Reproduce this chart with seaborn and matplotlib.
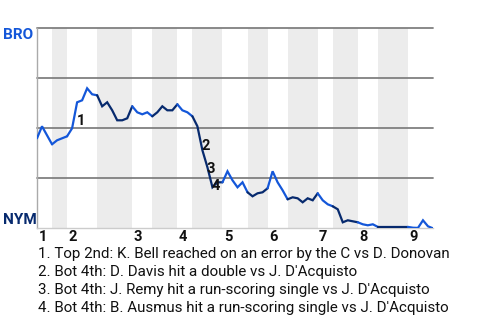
import matplotlib
matplotlib.use("Agg")
import matplotlib.pyplot as plt
import seaborn as sns
import numpy as np
import pandas as pd

# ---- data ----
wp_bro = [0.45, 0.51, 0.465, 0.42, 0.44, 0.45, 0.46, 0.50, 0.63, 0.64,
          0.70, 0.67, 0.665, 0.61, 0.63, 0.59, 0.54, 0.54, 0.55, 0.61,
          0.58, 0.57, 0.58, 0.56, 0.58, 0.61, 0.59, 0.59, 0.62, 0.59,
          0.58, 0.56, 0.51, 0.39, 0.305, 0.205, 0.23, 0.23, 0.285, 0.24,
          0.205, 0.23, 0.18, 0.16, 0.175, 0.18, 0.20, 0.285, 0.23, 0.19,
          0.145, 0.155, 0.15, 0.13, 0.15, 0.14, 0.175, 0.14, 0.12, 0.11,
          0.095, 0.03, 0.04, 0.035, 0.03, 0.02, 0.015, 0.02, 0.007, 0.007,
          0.007, 0.007, 0.007, 0.007, 0.007, 0.003, 0.002, 0.04, 0.01, 0.0]
plays = list(range(len(wp_bro)))

# half-inning boundaries (play index) and batting team of each half-inning
half_bounds = [0, 3, 6, 12, 19, 23, 28, 31, 37, 42, 46, 50, 56, 59, 64, 68, 74, 79]
half_team = ["BRO", "BRO", "BRO", "NYM", "BRO", "NYM", "BRO", "NYM", "BRO", "NYM",
             "BRO", "NYM", "BRO", "NYM", "BRO", "NYM", "BRO"]
inning_labels = ["1", "2", "3", "4", "5", "6", "7", "8", "9"]

event_plays = [8, 33, 34, 35]
event_labels = ["1", "2", "3", "4"]
event_texts = [
    "1. Top 2nd: K. Bell reached on an error by the C vs D. Donovan",
    "2. Bot 4th: D. Davis hit a double vs J. D'Acquisto",
    "3. Bot 4th: J. Remy hit a run-scoring single vs J. D'Acquisto",
    "4. Bot 4th: B. Ausmus hit a run-scoring single vs J. D'Acquisto",
]
teams = ["BRO", "NYM"]

# ---- style ----
sns.set_theme(style="white")
plt.rcParams["font.family"] = ["Roboto", "DejaVu Sans"]
team_colors = {"BRO": "#1457d9", "NYM": "#072a6e"}

W, H = 480, 320
fig = plt.figure(figsize=(W / 100, H / 100), dpi=100)
L, R, T, B = 37, 433, 28.3, 228.3
ax = fig.add_axes([L / W, 1 - B / H, (R - L) / W, (B - T) / H])

n_last = half_bounds[-1]
ax.set_xlim(0, n_last)
ax.set_ylim(0, 1)

# shaded bottom halves
for k in range(len(half_bounds) - 1):
    if k % 2 == 1:
        ax.axvspan(half_bounds[k], half_bounds[k + 1], color="#ececec", lw=0, zorder=0)

for gy in [0.25, 0.5, 0.75, 1.0]:
    ax.axhline(gy, color="#808080", lw=1.3, zorder=1, clip_on=False)

df = pd.DataFrame({"play": plays, "wp": wp_bro})
for k in range(len(half_bounds) - 1):
    a, b = half_bounds[k], half_bounds[k + 1]
    seg = df.iloc[a:b + 1]
    sns.lineplot(data=seg, x="play", y="wp", ax=ax, color=team_colors[half_team[k]],
                 lw=1.6, zorder=3, solid_joinstyle="miter")

offsets = [(3.0, -13.2), (2.6, 3.1), (2.6, -0.9), (2.5, 0.7)]
for p, lab, off in zip(event_plays, event_labels, offsets):
    ax.annotate(lab, xy=(p, wp_bro[p]), xytext=off, textcoords="offset points",
                ha="center", va="center", fontsize=10.5, fontweight="bold",
                color="#111111", zorder=4)

ax.set_xticks([])
ax.set_yticks([])
ax.set_xlabel("")
ax.set_ylabel("")
for s in ["top", "right"]:
    ax.spines[s].set_visible(False)
ax.spines["left"].set_color("#aaaaaa")
ax.spines["left"].set_linewidth(1.0)
ax.spines["bottom"].set_color("#cccccc")
ax.spines["bottom"].set_linewidth(1.0)

# inning labels at start of each top half
top_starts = half_bounds[0:-1:2]
for x0, lab in zip(top_starts, inning_labels):
    ax.annotate(lab, xy=(x0, 0), xycoords=("data", "axes fraction"),
                xytext=(1.0, -6.5), textcoords="offset points",
                ha="left", va="center", fontsize=10.5, fontweight="bold", color="#111111")

# team labels
fig.text(2.5 / W, 1 - 35 / H, "BRO", ha="left", va="center", fontsize=11,
         fontweight="bold", color=team_colors["BRO"])
fig.text(3 / W, 1 - 220.5 / H, "NYM", ha="left", va="center", fontsize=11,
         fontweight="bold", color=team_colors["NYM"])

for i, t in enumerate(event_texts):
    fig.text(38 / W, 1 - (254.3 + 18 * i) / H, t, ha="left", va="center",
             fontsize=10.9, color="#111111")

fig.savefig("out.png", dpi=100)
